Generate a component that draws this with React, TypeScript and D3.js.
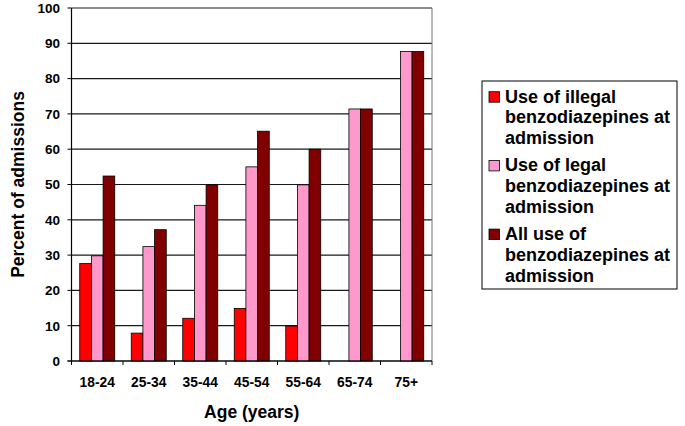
import React from "react";
import * as d3 from "d3";

const categories = ["18-24", "25-34", "35-44", "45-54", "55-64", "65-74", "75+"];
const illegalUse = [27.6, 7.9, 12.1, 14.9, 9.9, 0, 0];
const legalUse = [29.8, 32.4, 44.1, 55.0, 49.9, 71.4, 87.7];
const allUse = [52.4, 37.2, 49.9, 65.1, 60.0, 71.4, 87.7];
const seriesNames = [
  ["Use of illegal", "benzodiazepines at", "admission"],
  ["Use of legal", "benzodiazepines at", "admission"],
  ["All use of", "benzodiazepines at", "admission"],
];
const seriesColors = ["#FF0000", "#FF99CC", "#800000"];
const yTicks = [0, 10, 20, 30, 40, 50, 60, 70, 80, 90, 100];

const FONT = "'Liberation Sans', Arial, Helvetica, sans-serif";

export default function App() {
  const W = 685, H = 426;
  const left = 71.5, right = 432, top = 8, bottom = 361;
  const x = d3.scaleBand<string>().domain(categories).range([left, right]).paddingInner(0.32).paddingOuter(0.16);
  const inner = d3.scaleBand<number>().domain([0, 1, 2]).range([0, x.bandwidth()]);
  const y = d3.scaleLinear().domain([0, 100]).range([bottom, top]);
  const series = [illegalUse, legalUse, allUse];
  const step = (right - left) / categories.length;

  return (
    <svg width={W} height={H} style={{ position: "absolute", left: 0, top: 0, background: "#fff" }} fontFamily={FONT} fontWeight="bold">
      {yTicks.map((t) => (
        <line key={"g" + t} x1={left} x2={right} y1={y(t)} y2={y(t)} stroke="#1a1a1a" strokeWidth={1.2} />
      ))}
      <line x1={right} x2={right} y1={top} y2={bottom} stroke="#777" strokeWidth={1} />
      {categories.map((c, i) => (
        <g key={c}>
          {series.map((s, k) =>
            s[i] > 0 ? (
              <rect
                key={k}
                x={(x(c) as number) + (inner(k) as number)}
                y={y(s[i])}
                width={inner.bandwidth()}
                height={bottom - y(s[i])}
                fill={seriesColors[k]}
                stroke="#000"
                strokeWidth={0.8}
              />
            ) : null
          )}
        </g>
      ))}
      <line x1={left} x2={left} y1={top} y2={bottom + 0.5} stroke="#000" strokeWidth={1.2} />
      <line x1={left - 4} x2={right} y1={bottom} y2={bottom} stroke="#000" strokeWidth={1.2} />
      {yTicks.map((t) => (
        <g key={"yt" + t}>
          <line x1={left - 4} x2={left} y1={y(t)} y2={y(t)} stroke="#000" strokeWidth={1} />
          <text x={60} y={y(t) + 4.8} textAnchor="end" fontSize={13.5}>{t}</text>
        </g>
      ))}
      {d3.range(categories.length + 1).map((i) => (
        <line key={"xt" + i} x1={left + i * step} x2={left + i * step} y1={bottom} y2={bottom + 4} stroke="#000" strokeWidth={1} />
      ))}
      {categories.map((c) => (
        <text key={"xl" + c} x={(x(c) as number) + x.bandwidth() / 2} y={387} textAnchor="middle" fontSize={13.8}>{c}</text>
      ))}
      <text x={(left + right) / 2} y={418} textAnchor="middle" fontSize={17.5}>Age (years)</text>
      <text transform={`translate(24,${(top + bottom) / 2}) rotate(-90)`} textAnchor="middle" fontSize={17.5}>Percent of admissions</text>
      <rect x={482} y={81} width={195} height={208} fill="#fff" stroke="#000" strokeWidth={1} />
      {seriesNames.map((lines, k) => {
        const base = 102.7 + k * 68.7;
        return (
          <g key={"lg" + k}>
            <rect x={489} y={base - 11} width={10.5} height={10.5} fill={seriesColors[k]} stroke="#000" strokeWidth={0.8} />
            {lines.map((ln, j) => (
              <text key={j} x={505} y={base + j * 20.7} fontSize={18}>{ln}</text>
            ))}
          </g>
        );
      })}
    </svg>
  );
}
